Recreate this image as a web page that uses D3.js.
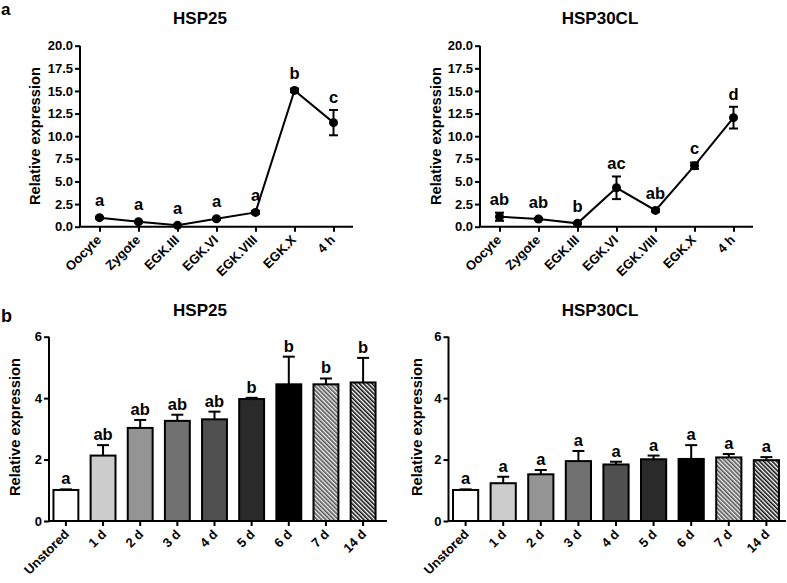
<!DOCTYPE html>
<html><head><meta charset="utf-8">
<script src="https://cdn.jsdelivr.net/npm/d3@7"></script>
<style>body{margin:0;background:#fff}svg{display:block}text{font-family:"Liberation Sans",Arial,sans-serif;font-weight:bold;fill:#000}</style>
</head><body><svg id="c" width="787" height="583"></svg>
<script>
// ---- Data ----
const stages = ["Oocyte","Zygote","EGK.III","EGK.VI","EGK.VIII","EGK.X","4 h"];
const hsp25Stage = [1.0,0.55,0.15,0.88,1.58,15.06,11.5];
const hsp25StageErr = [0.1,0.08,0.05,0.1,0.15,0.2,1.4];
const hsp25StageLetters = ["a","a","a","a","a","b","c"];
const hsp30Stage = [1.1,0.85,0.37,4.3,1.8,6.74,12.05];
const hsp30StageErr = [0.45,0.12,0.06,1.25,0.15,0.35,1.2];
const hsp30StageLetters = ["ab","ab","b","ac","ab","c","d"];
const storage = ["Unstored","1 d","2 d","3 d","4 d","5 d","6 d","7 d","14 d"];
const hsp25Store = [1.01,2.13,3.03,3.26,3.31,3.97,4.45,4.45,4.51];
const hsp25StoreErr = [0.02,0.34,0.26,0.2,0.25,0.04,0.9,0.19,0.8];
const hsp25StoreLetters = ["a","ab","ab","ab","ab","b","b","b","b"];
const hsp30Store = [1.01,1.23,1.52,1.95,1.84,2.01,2.02,2.07,1.98];
const hsp30StoreErr = [0.02,0.21,0.14,0.33,0.09,0.12,0.45,0.11,0.1];
const hsp30StoreLetters = ["a","a","a","a","a","a","a","a","a"];
const lineTicks = [0,2.5,5,7.5,10,12.5,15,17.5,20];
const barTicks = [0,2,4,6];
const barFills = ["#ffffff","#cccccc","#949494","#717171","#505050","#2a2a2a","#000000","url(#hatchA)","url(#hatchB)"];

const svg = d3.select("#c");
const defs = svg.append("defs");
function hatch(id, bg, fg){
  const p = defs.append("pattern").attr("id",id).attr("patternUnits","userSpaceOnUse")
    .attr("width",3).attr("height",3).attr("patternTransform","rotate(-45)");
  p.append("rect").attr("width",3).attr("height",3).attr("fill",bg);
  p.append("rect").attr("width",1.6).attr("height",3).attr("fill",fg);
}
hatch("hatchA","#f0f0f0","#555555");
hatch("hatchB","#ffffff","#111111");

function styleAxis(g){
  g.selectAll("line").attr("stroke","#000").attr("stroke-width",2);
  g.selectAll("path.domain").remove();
  g.selectAll("text").style("font-size","13px").style("font-weight","bold");
}

function ylabel(x, y){
  svg.append("text").attr("transform",`translate(${x},${y}) rotate(-90)`)
    .attr("text-anchor","middle").attr("dominant-baseline","central")
    .style("font-size","14.7px").text("Relative expression");
}

function linePanel(o){
  const x = d3.scalePoint().domain(stages).range([o.x0,o.x1]).padding(0.5);
  const y = d3.scaleLinear().domain([0,20]).range([226.7,45.7]);
  const g = svg.append("g");
  const ya = g.append("g").attr("transform",`translate(${o.x0},0)`)
    .call(d3.axisLeft(y).tickValues(lineTicks).tickFormat(d3.format(".1f")).tickSize(5).tickSizeOuter(0));
  styleAxis(ya);
  ya.selectAll("text").attr("x",-7);
  g.append("line").attr("x1",o.x0).attr("x2",o.x0).attr("y1",y(20)).attr("y2",y(0)).attr("stroke","#000").attr("stroke-width",2);
  const xa = g.append("g").attr("transform",`translate(0,${y(0)})`)
    .call(d3.axisBottom(x).tickSize(5).tickSizeOuter(0));
  styleAxis(xa);
  xa.selectAll("text").attr("text-anchor","end").attr("dy",0).attr("y",0)
    .attr("transform","translate(2,14) rotate(-45)");
  g.append("line").attr("x1",o.x0).attr("x2",o.x1).attr("y1",y(0)).attr("y2",y(0)).attr("stroke","#000").attr("stroke-width",2);
  g.append("path").datum(o.vals).attr("fill","none").attr("stroke","#000").attr("stroke-width",2)
    .attr("d",d3.line().x((d,i)=>x(stages[i])).y(d=>y(d)));
  o.vals.forEach((v,i)=>{
    const cx = x(stages[i]), e=o.err[i];
    g.append("line").attr("x1",cx).attr("x2",cx).attr("y1",y(v+e)).attr("y2",y(Math.max(0,v-e))).attr("stroke","#000").attr("stroke-width",2);
    [v+e, Math.max(0,v-e)].forEach(t=>g.append("line").attr("x1",cx-4.5).attr("x2",cx+4.5).attr("y1",y(t)).attr("y2",y(t)).attr("stroke","#000").attr("stroke-width",2));
    g.append("circle").attr("cx",cx).attr("cy",y(v)).attr("r",4.5).attr("fill","#000");
    g.append("text").attr("x",cx).attr("y",Math.min(y(v+e),y(v)-4.5)-7).attr("text-anchor","middle")
      .style("font-size","16.5px").text(o.letters[i]);
  });
  svg.append("text").attr("x",o.tx).attr("y",24).attr("text-anchor","middle").style("font-size","17px").text(o.title);
  ylabel(o.lx,136);
}

function barPanel(o){
  const x = d3.scaleBand().domain(storage).range([o.x0,o.x1]).paddingInner(0.33).paddingOuter(0.12);
  const y = d3.scaleLinear().domain([0,6]).range([521,336.7]);
  const g = svg.append("g");
  o.vals.forEach((v,i)=>{
    const bx = x(storage[i]), bw = x.bandwidth(), cx = bx+bw/2, e=o.err[i];
    g.append("line").attr("x1",cx).attr("x2",cx).attr("y1",y(v)).attr("y2",y(v+e)).attr("stroke","#000").attr("stroke-width",2);
    g.append("line").attr("x1",cx-6).attr("x2",cx+6).attr("y1",y(v+e)).attr("y2",y(v+e)).attr("stroke","#000").attr("stroke-width",2);
    g.append("rect").attr("x",bx).attr("y",y(v)).attr("width",bw).attr("height",y(0)-y(v))
      .attr("fill",barFills[i]).attr("stroke","#000").attr("stroke-width",2);
    g.append("text").attr("x",cx).attr("y",y(v+e)-5).attr("text-anchor","middle")
      .style("font-size","16.5px").text(o.letters[i]);
  });
  const ya = g.append("g").attr("transform",`translate(${o.x0},0)`)
    .call(d3.axisLeft(y).tickValues(barTicks).tickFormat(d3.format("d")).tickSize(5).tickSizeOuter(0));
  styleAxis(ya);
  ya.selectAll("text").attr("x",-7);
  g.append("line").attr("x1",o.x0).attr("x2",o.x0).attr("y1",y(6)).attr("y2",y(0)).attr("stroke","#000").attr("stroke-width",2);
  const xa = g.append("g").attr("transform",`translate(0,${y(0)})`)
    .call(d3.axisBottom(x).tickSize(5).tickSizeOuter(0));
  styleAxis(xa);
  xa.selectAll("text").attr("text-anchor","end").attr("dy",0).attr("y",0)
    .attr("transform","translate(4,14) rotate(-45)");
  g.append("line").attr("x1",o.x0).attr("x2",o.xe).attr("y1",y(0)).attr("y2",y(0)).attr("stroke","#000").attr("stroke-width",2);
  svg.append("text").attr("x",o.tx).attr("y",316).attr("text-anchor","middle").style("font-size","17px").text(o.title);
  ylabel(o.lx,427);
}

linePanel({x0:80,x1:353,vals:hsp25Stage,err:hsp25StageErr,letters:hsp25StageLetters,title:"HSP25",tx:200,lx:35});
linePanel({x0:480,x1:753,vals:hsp30Stage,err:hsp30StageErr,letters:hsp30StageLetters,title:"HSP30CL",tx:600,lx:436});
barPanel({x0:49,x1:380,xe:387,vals:hsp25Store,err:hsp25StoreErr,letters:hsp25StoreLetters,title:"HSP25",tx:200,lx:15});
barPanel({x0:448.5,x1:783.5,xe:786,vals:hsp30Store,err:hsp30StoreErr,letters:hsp30StoreLetters,title:"HSP30CL",tx:600,lx:417});

svg.append("text").attr("x",1).attr("y",15).style("font-size","17px").text("a");
svg.append("text").attr("x",1).attr("y",322).style("font-size","18px").text("b");
</script></body></html>
